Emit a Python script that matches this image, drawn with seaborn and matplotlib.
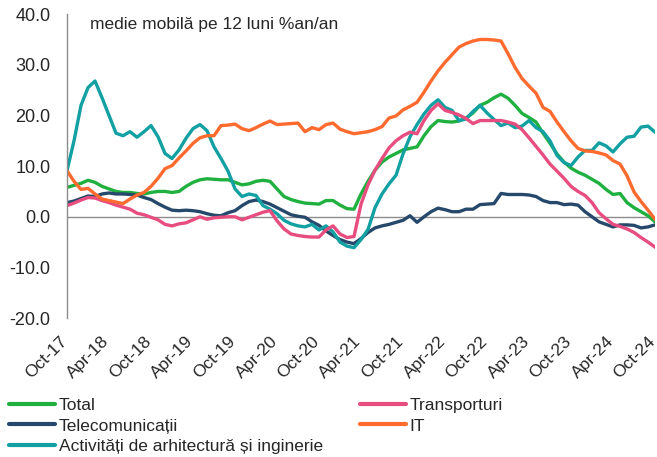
import pandas as pd
import matplotlib.pyplot as plt
import matplotlib.transforms as mtransforms
import seaborn as sns
from matplotlib.lines import Line2D

# luni Oct-17 .. Oct-24 (85 valori)
luni = pd.period_range('2017-10', '2024-10', freq='M')
etichete_x = ['Oct-17', 'Apr-18', 'Oct-18', 'Apr-19', 'Oct-19', 'Apr-20', 'Oct-20', 'Apr-21',
              'Oct-21', 'Apr-22', 'Oct-22', 'Apr-23', 'Oct-23', 'Apr-24', 'Oct-24']

total = [5.8, 6.2, 6.6, 7.2, 6.8, 6.0, 5.5, 5.0, 4.8, 4.8, 4.6, 4.5, 4.8, 5.0, 5.0, 4.8, 5.0,
         6.0, 6.8, 7.3, 7.5, 7.4, 7.3, 7.3, 6.8, 6.3, 6.5, 7.0, 7.2, 7.0, 5.5, 4.0, 3.4, 3.0,
         2.7, 2.6, 2.5, 3.2, 3.2, 2.3, 1.6, 1.5, 4.5, 7.0, 9.2, 10.8, 11.8, 12.5, 13.2, 13.5,
         13.8, 16.0, 17.8, 19.0, 18.8, 18.7, 18.9, 19.5, 20.5, 22.0, 22.6, 23.5, 24.2, 23.4,
         22.0, 20.4, 19.6, 18.7, 16.5, 14.5, 12.4, 10.8, 9.6, 8.8, 8.2, 7.4, 6.6, 5.4, 4.4,
         4.6, 2.8, 1.8, 1.0, 0.2, -1.0]

transport = [2.2, 2.7, 3.3, 3.8, 3.7, 3.2, 2.8, 2.3, 1.9, 1.5, 0.7, 0.4, -0.1, -0.6, -1.5,
             -1.8, -1.4, -1.2, -0.6, 0.0, -0.5, -0.2, -0.1, 0.0, 0.0, -0.6, -0.1, 0.4, 0.9,
             1.2, -0.8, -2.4, -3.4, -3.7, -3.9, -4.0, -4.0, -2.6, -1.8, -3.4, -4.1, -3.9,
             2.5, 6.3, 9.2, 11.5, 13.6, 15.0, 16.0, 16.7, 16.4, 19.0, 21.0, 22.3, 21.0,
             20.6, 20.1, 19.4, 18.4, 19.0, 19.0, 19.0, 19.0, 18.7, 18.3, 17.2, 15.6, 13.9,
             12.2, 10.4, 9.0, 7.6, 6.0, 5.0, 4.2, 2.8, 0.8, -0.4, -1.5, -1.9, -2.4, -3.1,
             -4.1, -5.0, -6.0]

telecom = [2.8, 3.1, 3.6, 4.1, 4.0, 4.5, 4.7, 4.5, 4.5, 4.4, 4.3, 3.8, 3.4, 2.6, 1.9, 1.3,
           1.2, 1.3, 1.2, 1.0, 0.6, 0.3, 0.2, 0.8, 1.2, 2.2, 3.0, 3.3, 3.0, 2.5, 1.8, 1.1,
           0.4, 0.1, -0.1, -1.0, -1.7, -2.8, -3.7, -4.5, -5.0, -5.3, -4.3, -3.1, -2.2, -1.8,
           -1.5, -1.1, -0.7, 0.2, -1.1, 0.0, 1.0, 1.7, 1.4, 1.0, 1.0, 1.5, 1.5, 2.4, 2.5,
           2.6, 4.6, 4.4, 4.4, 4.4, 4.3, 4.0, 3.2, 2.8, 2.8, 2.4, 2.5, 2.3, 1.0, 0.0, -1.0,
           -1.5, -2.0, -1.6, -1.6, -1.7, -2.2, -2.0, -1.6]

it = [9.1, 7.0, 5.4, 5.6, 4.5, 3.5, 3.2, 2.9, 2.6, 3.5, 4.3, 4.8, 6.0, 7.6, 9.5, 10.1, 11.6,
      13.0, 14.5, 15.6, 16.0, 16.0, 18.0, 18.1, 18.3, 17.4, 17.0, 17.6, 18.3, 18.9, 18.2,
      18.3, 18.4, 18.5, 16.8, 17.6, 17.2, 18.2, 18.5, 17.3, 16.8, 16.4, 16.6, 16.8, 17.2,
      17.8, 19.5, 19.9, 21.1, 21.8, 22.6, 24.6, 26.8, 28.8, 30.5, 32.0, 33.5, 34.2, 34.7,
      35.0, 35.0, 34.9, 34.7, 32.2, 29.5, 27.3, 25.8, 24.4, 21.6, 20.8, 18.7, 16.8, 15.0,
      13.5, 13.0, 12.9, 12.6, 12.2, 11.1, 10.4, 8.1, 4.9, 3.0, 1.3, -0.5]

arhitectura = [9.1, 15.0, 22.0, 25.5, 26.8, 23.5, 20.0, 16.5, 16.0, 16.8, 15.7, 16.8, 18.0,
               15.8, 12.5, 11.5, 13.2, 15.5, 17.4, 18.2, 17.0, 13.8, 11.5, 9.0, 5.5, 4.0,
               4.5, 4.2, 2.2, 1.5, 0.6, -0.7, -1.4, -1.8, -2.0, -1.5, -2.6, -1.8, -3.0,
               -5.0, -5.8, -6.1, -4.5, -2.5, 1.8, 4.5, 6.5, 8.2, 12.4, 15.8, 18.2, 20.3,
               22.0, 23.1, 21.6, 21.0, 19.0, 19.3, 20.8, 22.0, 20.5, 19.2, 18.0, 18.5, 17.6,
               17.9, 19.0, 17.6, 16.8, 15.0, 12.1, 10.7, 10.1, 11.8, 13.1, 13.1, 14.6, 14.0,
               12.8, 14.4, 15.7, 15.9, 17.7, 17.9, 16.7]

serii = {
    'Total': total,
    'Transporturi': transport,
    'Telecomunicații': telecom,
    'IT': it,
    'Activități de arhitectură și inginerie': arhitectura,
}
culori = {
    'Total': '#1fb040',
    'Transporturi': '#e84d7f',
    'Telecomunicații': '#26496b',
    'IT': '#ff6b2f',
    'Activități de arhitectură și inginerie': '#12a0a3',
}

df = pd.DataFrame(serii)
df['idx'] = range(len(luni))
lung = df.melt(id_vars='idx', var_name='serie', value_name='valoare')

sns.set_style('white')
plt.rcParams['font.family'] = ['Liberation Sans', 'DejaVu Sans']

fig = plt.figure(figsize=(6.57, 4.57), dpi=100)
ax = fig.add_axes([0.102, 0.304, 0.895, 0.665])

sns.lineplot(data=lung, x='idx', y='valoare', hue='serie', palette=culori,
             hue_order=['Total', 'Telecomunicații', 'Activități de arhitectură și inginerie',
                        'Transporturi', 'IT'],
             linewidth=2.4, legend=False, ax=ax)

ax.axhline(0, color='#8c8c8c', linewidth=1, zorder=0)
ax.set_xlim(0, 84)
ax.set_ylim(-20, 40)
ax.set_yticks(range(-20, 41, 10))
ax.set_yticklabels([f'{v:.1f}' for v in range(-20, 41, 10)], fontsize=13)
ax.set_xticks(range(0, 85, 6))
ax.set_xticklabels(etichete_x, rotation=45, ha='right', va='center',
                   rotation_mode='anchor', fontsize=12.5)
ax.tick_params(axis='x', length=0, pad=15)
ax.tick_params(axis='y', length=0, pad=12)
deplasare = mtransforms.ScaledTranslation(-2 / 100, 0, fig.dpi_scale_trans)
for lab in ax.get_xticklabels():
    lab.set_transform(lab.get_transform() + deplasare)
ax.set_xlabel('')
ax.set_ylabel('')
for s in ['top', 'right', 'bottom']:
    ax.spines[s].set_visible(False)
ax.spines['left'].set_color('#8c8c8c')
ax.spines['left'].set_linewidth(1)

fig.text(90 / 657, 1 - 25 / 457, 'medie mobilă pe 12 luni %an/an', fontsize=12.5,
         va='center', ha='left')

def manere(nume):
    return [Line2D([], [], color=culori[n], linewidth=3) for n in nume]

col1 = ['Total', 'Telecomunicații', 'Activități de arhitectură și inginerie']
col2 = ['Transporturi', 'IT']
stil = dict(frameon=False, fontsize=12.5, handlelength=2.64, handletextpad=0.23,
            labelspacing=0.3, borderaxespad=0, borderpad=0, loc='upper left')
leg1 = fig.legend(manere(col1), col1, bbox_to_anchor=(9 / 657, 1 - 398 / 457), **stil)
leg2 = fig.legend(manere(col2), col2, bbox_to_anchor=(360 / 657, 1 - 398 / 457), **stil)

fig.savefig('out.png', dpi=100)
